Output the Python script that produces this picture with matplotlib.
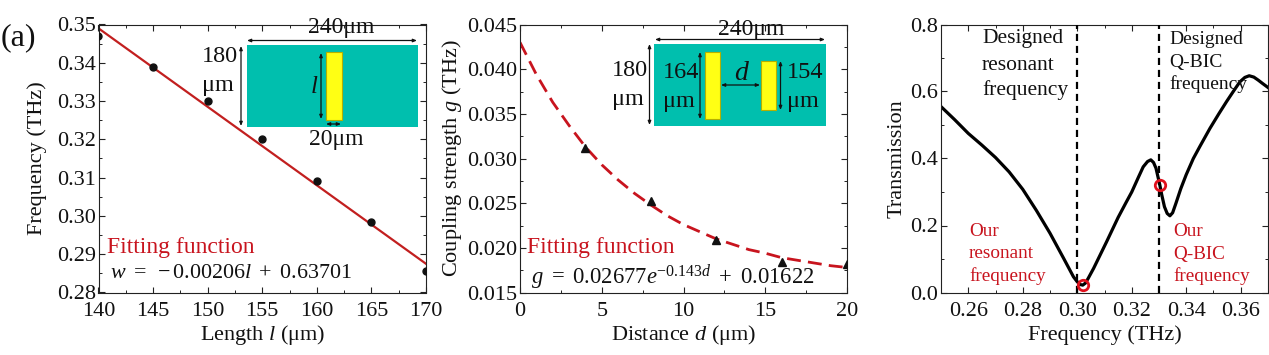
import matplotlib
matplotlib.use("Agg")
import matplotlib.pyplot as plt
from matplotlib.patches import Rectangle
from matplotlib.ticker import MultipleLocator, FormatStrFormatter

plt.rcParams['font.family'] = ['Liberation Serif', 'DejaVu Serif']
plt.rcParams['mathtext.fontset'] = 'custom'
plt.rcParams['mathtext.rm'] = 'Liberation Serif'
plt.rcParams['mathtext.it'] = 'Liberation Serif:italic'
plt.rcParams['mathtext.bf'] = 'Liberation Serif:bold'

# Panel 1: frequency vs length
length_um = [140, 145, 150, 155, 160, 165, 170]
freq_thz = [0.347, 0.339, 0.330, 0.320, 0.309, 0.2983, 0.2855]
fit_length = [140, 170]
fit_freq = [0.349, 0.2875]

# Panel 2: coupling strength vs distance
dist_um = [4, 8, 12, 16, 20]
coupling_thz = [0.0312, 0.0252, 0.0209, 0.0184, 0.0182]
fit_dist = [0, 1, 2, 3, 4, 5, 6, 7, 8, 9, 10, 11, 12, 13, 14, 15, 16, 17, 18, 19, 20]
fit_coupling = [0.0430, 0.0394, 0.0363, 0.0337, 0.0313, 0.0293, 0.0276, 0.0261, 0.0248,
                0.0236, 0.0226, 0.0218, 0.0210, 0.0204, 0.0198, 0.0194, 0.0189, 0.0186,
                0.0183, 0.0180, 0.0178]

# Panel 3: transmission spectrum
spec_f = [0.250, 0.255, 0.260, 0.265, 0.270, 0.275, 0.280, 0.285, 0.290, 0.295, 0.2986,
          0.300, 0.301, 0.302, 0.303, 0.304, 0.306, 0.3108, 0.315, 0.318, 0.320, 0.3225,
          0.3242, 0.3258, 0.327, 0.328, 0.3289, 0.3303, 0.331, 0.332, 0.333, 0.334, 0.335,
          0.3362, 0.338, 0.340, 0.3426, 0.345, 0.3487, 0.352, 0.3548, 0.3575, 0.3597,
          0.3615, 0.3631, 0.3648, 0.3664, 0.368, 0.370]
spec_t = [0.555, 0.516, 0.475, 0.440, 0.403, 0.360, 0.308, 0.245, 0.177, 0.102, 0.047,
          0.032, 0.024, 0.022, 0.028, 0.042, 0.072, 0.152, 0.224, 0.270, 0.300, 0.345,
          0.375, 0.391, 0.396, 0.388, 0.371, 0.321, 0.292, 0.256, 0.236, 0.229, 0.238,
          0.266, 0.310, 0.352, 0.400, 0.436, 0.490, 0.534, 0.570, 0.603, 0.629,
          0.642, 0.647, 0.643, 0.634, 0.624, 0.612]
designed_f = [0.300, 0.330]
our_f = [0.302, 0.3303]
our_t = [0.022, 0.321]

W, H = 1269, 355
fig = plt.figure(figsize=(W / 100, H / 100), dpi=100, facecolor='white')
TOP, BOT = 24.5, 292.5
FS = 16
RED = '#c8141e'
TEAL = '#00bfae'
YEL = '#ffff14'


def make_axes(x0, x1):
    ax = fig.add_axes([x0 / W, 1 - BOT / H, (x1 - x0) / W, (BOT - TOP) / H])
    for s in ax.spines.values():
        s.set_linewidth(0.8)
        s.set_color('#222222')
    ax.tick_params(which='major', direction='in', length=4.5, width=0.8, top=True, right=True,
                   labelsize=FS, pad=2, color='#222222', labelcolor='#111111')
    ax.tick_params(axis='x', which='major', pad=7)
    ax.tick_params(which='minor', direction='in', length=2.5, width=0.7, top=True, right=True,
                   color='#222222')
    return ax


# ---- Panel 1
ax1 = make_axes(98.5, 426)
ax1.plot(fit_length, fit_freq, color='#c21f1f', lw=1.6, zorder=2)
ax1.plot(length_um, freq_thz, 'o', color='#111111', ms=5, zorder=3)
ax1.set_xlim(140, 170)
ax1.set_ylim(0.28, 0.35)
ax1.xaxis.set_major_locator(MultipleLocator(5))
ax1.xaxis.set_minor_locator(MultipleLocator(2.5))
ax1.yaxis.set_major_locator(MultipleLocator(0.01))
ax1.yaxis.set_minor_locator(MultipleLocator(0.005))
ax1.yaxis.set_major_formatter(FormatStrFormatter('%.2f'))
ax1.set_xlabel(r'Length $l$ (μm)', fontsize=FS, labelpad=1, color='#111111')
ax1.set_ylabel('Frequency (THz)', fontsize=FS, labelpad=7, color='#111111')

# ---- Panel 2
ax2 = make_axes(520, 847)
ax2.plot(fit_dist, fit_coupling, color='#c8141e', lw=2.0, dashes=(5, 2.6), zorder=2)
ax2.plot(dist_um, coupling_thz, '^', color='#111111', ms=5.5, zorder=3)
ax2.set_xlim(0, 20)
ax2.set_ylim(0.015, 0.045)
ax2.xaxis.set_major_locator(MultipleLocator(5))
ax2.xaxis.set_minor_locator(MultipleLocator(2.5))
ax2.yaxis.set_major_locator(MultipleLocator(0.005))
ax2.yaxis.set_minor_locator(MultipleLocator(0.0025))
ax2.yaxis.set_major_formatter(FormatStrFormatter('%.3f'))
ax2.set_xlabel(r'Distance $d$ (μm)', fontsize=FS, labelpad=1, color='#111111')
ax2.set_ylabel(r'Coupling strength $g$ (THz)', fontsize=FS, labelpad=2, color='#111111')

# ---- Panel 3
ax3 = make_axes(941, 1268)
ax3.plot(spec_f, spec_t, color='black', lw=2.3, zorder=2)
for f in designed_f:
    ax3.axvline(f, color='black', lw=1.6, dashes=(3.2, 2.2), zorder=3)
ax3.plot(our_f, our_t, 'o', mfc='none', mec='#e0101c', mew=2.0, ms=7.5, zorder=4, clip_on=False)
ax3.set_xlim(0.25, 0.37)
ax3.set_ylim(0, 0.8)
ax3.xaxis.set_major_locator(MultipleLocator(0.02))
ax3.xaxis.set_minor_locator(MultipleLocator(0.01))
ax3.yaxis.set_major_locator(MultipleLocator(0.2))
ax3.yaxis.set_minor_locator(MultipleLocator(0.1))
ax3.xaxis.set_major_formatter(FormatStrFormatter('%.2f'))
ax3.yaxis.set_major_formatter(FormatStrFormatter('%.1f'))
ax3.set_xlabel('Frequency (THz)', fontsize=FS, labelpad=3, color='#111111')
ax3.set_ylabel('Transmission', fontsize=FS, labelpad=3, color='#111111')

# ---- Overlay for the schematic insets and annotations, in pixel coordinates
ov = fig.add_axes([0, 0, 1, 1], zorder=10)
ov.set_xlim(0, W)
ov.set_ylim(H, 0)
ov.axis('off')
ov.patch.set_alpha(0)


def rect(x0, y0, x1, y1, fc, ec='none'):
    ov.add_patch(Rectangle((x0, y0), x1 - x0, y1 - y0, fc=fc, ec=ec, lw=0.8))


def arrow(x0, y0, x1, y1):
    ov.annotate('', xy=(x0, y0), xytext=(x1, y1),
                arrowprops=dict(arrowstyle='<|-|>,head_length=0.22,head_width=0.09',
                                color='#111111', lw=0.9, shrinkA=0, shrinkB=0))


def label(x, y, s, color='#111111', size=FS, ha='left'):
    ov.text(x, y, s, color=color, fontsize=size, ha=ha, va='center')


label(1, 38, '(a)', size=23)

# inset 1
rect(246.5, 45, 418, 127, TEAL)
rect(325.5, 52, 342, 120, YEL, '#b5b000')
arrow(247, 40.5, 417, 40.5)
arrow(241, 46, 241, 126)
arrow(321, 53, 321, 119)
arrow(326, 124, 341, 124)
label(341, 28, '240μm', ha='center', size=17)
label(202, 56, '180', size=17.5)
label(202, 86, 'μm', size=17.5)
label(314, 87, r'$l$', ha='center', size=18)
label(309, 140, '20μm', size=17)
label(107, 248, 'Fitting function', color=RED, size=17)
label(110, 274, r'$w\ =\ -0.00206l\ +\ 0.63701$', size=15.8)

# inset 2
rect(654, 43.5, 826, 125.5, TEAL)
rect(705, 52, 720, 119, YEL, '#b5b000')
rect(761, 61, 776, 110, YEL, '#b5b000')
arrow(655, 39.5, 825, 39.5)
arrow(649.5, 44, 649.5, 125)
arrow(700, 52, 700, 119)
arrow(721, 85, 760, 85)
arrow(780.5, 61, 780.5, 110)
label(751, 29, '240μm', ha='center', size=17)
label(612, 70, '180', size=17.5)
label(612, 100, 'μm', size=17.5)
label(663, 73, '164', size=17.5)
label(663, 102, 'μm', size=17.5)
label(742, 73, r'$d$', ha='center', size=20)
label(787, 72, '154', size=17.5)
label(787, 101, 'μm', size=17.5)
label(527, 248, 'Fitting function', color=RED, size=17)
label(531, 277, r'$g\ =\ 0.02677e^{-0.143d}\ +\ 0.01622$', size=16.3)

# panel 3 annotations
label(982, 39, 'Designed', size=15.5)
label(982, 65, 'resonant', size=15.5)
label(982, 90, 'frequency', size=15.5)
label(1169, 40, 'Designed', size=14)
label(1169, 62, 'Q-BIC', size=14)
label(1169, 84, 'frequency', size=14)
label(969, 231, 'Our', color=RED, size=13.8)
label(969, 254, 'resonant', color=RED, size=13.8)
label(969, 276, 'frequency', color=RED, size=13.8)
label(1173, 231, 'Our', color=RED, size=13.8)
label(1173, 254, 'Q-BIC', color=RED, size=13.8)
label(1173, 276, 'frequency', color=RED, size=13.8)

fig.savefig('out.png', dpi=100, facecolor='white')
